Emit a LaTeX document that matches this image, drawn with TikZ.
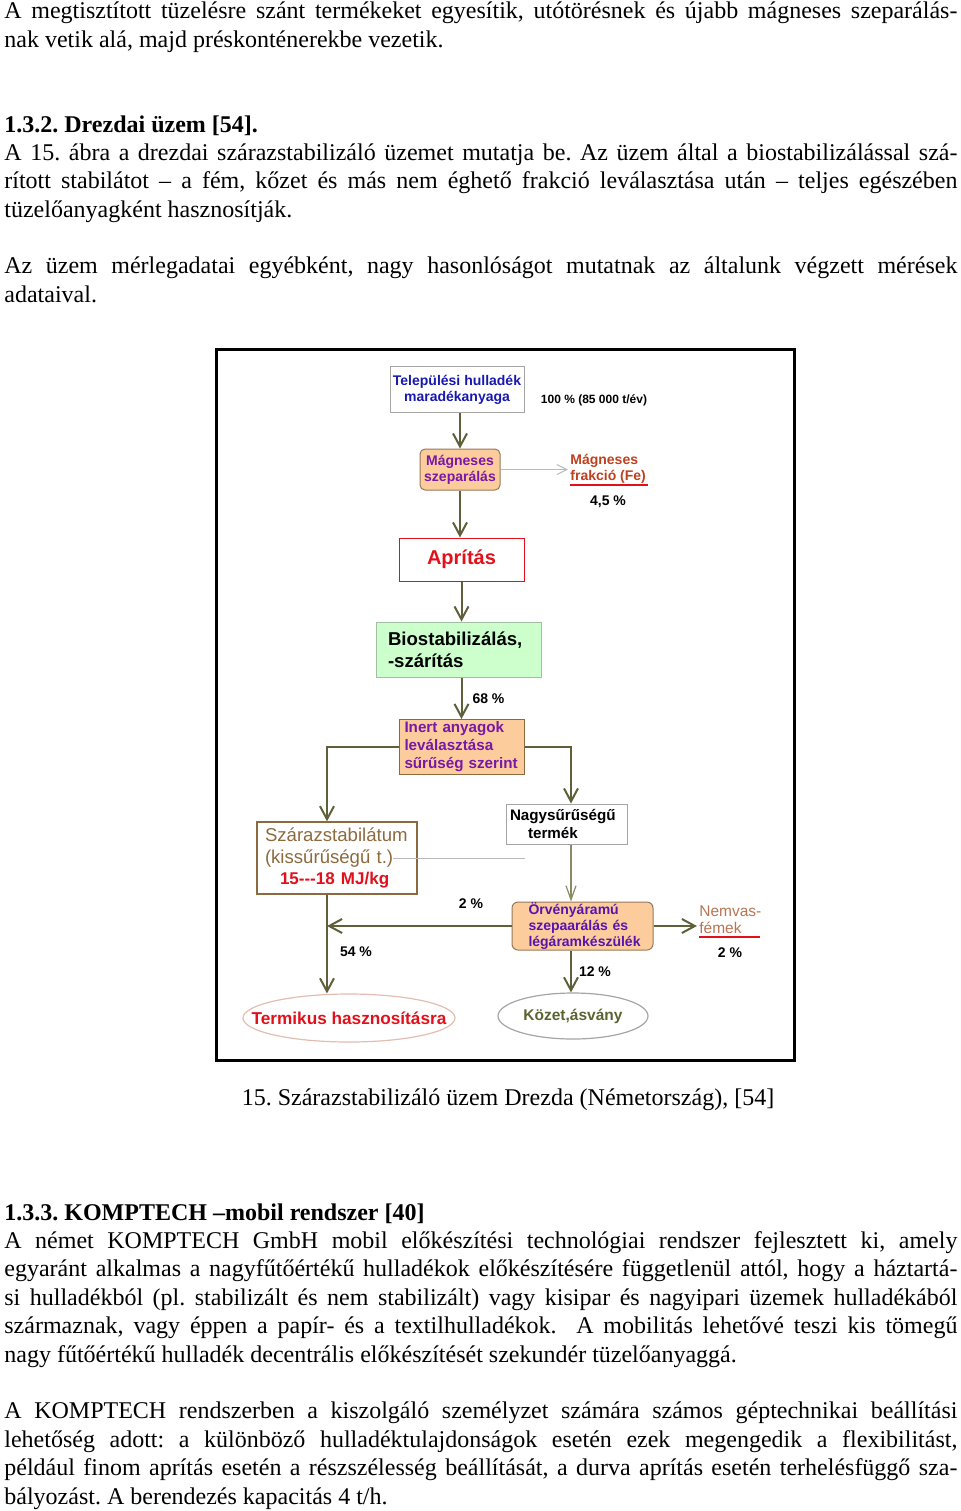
\documentclass[tikz,border=0pt]{standalone}
\usepackage{fontspec}
\setmainfont{Liberation Serif}
\setsansfont{Liberation Sans}
\usetikzlibrary{arrows.meta,shapes.geometric}
\definecolor{flowcol}{RGB}{95,95,58}
\definecolor{thincol}{RGB}{138,138,100}
\definecolor{boxgray}{RGB}{165,165,165}
\definecolor{hullblue}{RGB}{24,24,176}
\definecolor{magpurple}{RGB}{120,24,168}
\definecolor{orvpurple}{RGB}{88,20,176}
\definecolor{peach}{RGB}{252,204,156}
\definecolor{peachline}{RGB}{150,120,90}
\definecolor{aprred}{RGB}{226,16,26}
\definecolor{biogreen}{RGB}{204,255,204}
\definecolor{bioline}{RGB}{160,190,160}
\definecolor{szbrown}{RGB}{140,106,62}
\definecolor{fecol}{RGB}{190,64,30}
\definecolor{nemcol}{RGB}{184,116,82}
\definecolor{kozcol}{RGB}{90,100,50}
\definecolor{termline}{RGB}{228,188,176}
\newcommand\dfont[2]{\sffamily\bfseries\fontsize{#1}{#2}\selectfont}
\frenchspacing
\begin{document}
\begin{tikzpicture}[x=0.5pt,y=-0.5pt,
    para/.style={anchor=base west, inner sep=0pt, font=\fontsize{12}{14}\selectfont},
    box/.style={draw, inner sep=0pt, line width=0.5pt},
    pct/.style={inner sep=0pt, font={\dfont{7}{8}}},
    flow/.style={draw=flowcol, line width=1pt, -{Straight Barb[length=6.5pt,width=7pt]}},
    thinflow/.style={draw=thincol, line width=0.6pt, -{Straight Barb[length=7pt,width=5pt]}},
    uline/.style={draw=aprred, line width=1pt}]
\useasboundingbox (0,0) rectangle (960,1511);
\node (t1) [para] at (4,18.5) {\makebox[476.5pt][s]{A megtisztított tüzelésre szánt termékeket egyesítik, utótörésnek és újabb mágneses szeparálás-}};
\node (t2) [para] at (4,47) {nak vetik alá, majd préskonténerekbe vezetik.};
\node (h1) [para] at (4,132.5) {\bfseries 1.3.2. Drezdai üzem [54].};
\node (t3) [para] at (4,160) {\makebox[476.5pt][s]{A 15. ábra a drezdai szárazstabilizáló üzemet mutatja be. Az üzem által a biostabilizálással szá-}};
\node (t4) [para] at (4,188.5) {\makebox[476.5pt][s]{rított stabilátot – a fém, kőzet és más nem éghető frakció leválasztása után – teljes egészében}};
\node (t5) [para] at (4,217) {tüzelőanyagként hasznosítják.};
\node (t6) [para] at (4,273.5) {\makebox[476.5pt][s]{Az üzem mérlegadatai egyébként, nagy hasonlóságot mutatnak az általunk végzett mérések}};
\node (t7) [para] at (4,302) {adataival.};

\draw [line width=1.5pt] (216,349) rectangle (794,1060);
\node (hull) [box, draw=boxgray, minimum width=67pt, minimum height=23pt, text=hullblue, font={\dfont{7}{8}}, align=center] at (457,389.5) {Települési hulladék\\maradékanyaga};
\node (p100) [pct, font={\dfont{6}{7}}] at (594,400) {100 \% (85 000 t/év)};
\node (magn) [box, draw=peachline, fill=peach, rounded corners=2.5pt, minimum width=40pt, minimum height=20.5pt, text=magpurple, font={\dfont{7}{8}}, align=center] at (460,469.5) {Mágneses\\szeparálás};
\node (fe) [anchor=west, inner sep=1pt, text=fecol, font={\dfont{7}{8}}, align=left] at (568,469) {Mágneses\\frakció (Fe)};
\node (p45) [pct] at (608,502) {4,5 \%};
\node (apr) [box, draw=aprred, minimum width=62.5pt, minimum height=21.5pt, text=aprred, font={\dfont{10}{12}}] at (461.5,559.5) {Aprítás};
\node (bio) [box, draw=bioline, fill=biogreen, inner xsep=6pt, text width=70.5pt, minimum height=27.5pt, font={\dfont{9.3}{11}}, align=left] at (458.5,649.5) {Biostabilizálás,\\-szárítás};
\node (inert) [box, draw=szbrown, fill=peach, inner xsep=2.75pt, text width=57pt, minimum height=27.5pt, text=magpurple, font={\dfont{7.6}{9}}, align=left] at (461.5,747) {Inert anyagok\\leválasztása\\sűrűség szerint};
\node (nagy) [box, draw=boxgray, inner xsep=2pt, text width=56.5pt, minimum height=20pt, font={\dfont{7.6}{9}}, align=left] at (566.5,824) {Nagysűrűségű\\\hspace*{9pt}termék};
\node (szaraz) [box, draw=szbrown, line width=0.7pt, inner xsep=4pt, text width=72pt, minimum height=36pt, text=szbrown, font={\sffamily\fontsize{9.3}{10.75}\selectfont}, align=left] at (337,858) {Szárazstabilátum\\(kissűrűségű t.)\\\hspace*{7.5pt}{\color{aprred}\bfseries\fontsize{8.5}{10.75}\selectfont 15-{}-{}-18 MJ/kg}};
\draw [gray!55, line width=0.4pt] (393,858) -- (525,858);
\node (orveny) [box, draw=peachline, fill=peach, rounded corners=3pt, inner xsep=8.25pt, text width=54pt, minimum height=24pt, text=orvpurple, font={\dfont{7}{8}}, align=left] at (582.5,926) {Örvényáramú\\szepaarálás és\\légáramkészülék};
\node (nemvas) [anchor=west, inner sep=1pt, text=nemcol, font={\sffamily\fontsize{7.75}{8.5}\selectfont}, align=left] at (697,919.5) {Nemvas-\\fémek};
\node (p2b) [pct] at (730,953) {2 \%};
\node (term) [ellipse, draw=termline, line width=0.6pt, inner sep=0pt, minimum width=106pt, minimum height=24pt, text=aprred, font={\dfont{8.6}{10}}] at (349,1018) {\makebox[0pt]{Termikus hasznosításra}};
\node (kozet) [ellipse, draw=boxgray, line width=0.6pt, inner sep=0pt, minimum width=75pt, minimum height=23pt, text=kozcol, font={\dfont{7.75}{9}}] at (573,1016) {\makebox[0pt]{Közet,ásvány}};
\coordinate (lc) at (327,0);
\coordinate (rc) at (571,0);
\draw [flow] (magn.north |- hull.south) -- (magn.north);
\draw [gray!55, line width=0.5pt, -{Straight Barb[length=5pt,width=5pt]}] (magn.east) -- (magn.east -| fe.west);
\draw [uline] (570,485) -- (648,485);
\draw [flow] (magn.south) -- (magn.south |- apr.north);
\draw [flow] (apr.south) -- (apr.south |- bio.north);
\draw [flow] (inert.north |- bio.south) -- node [pct, anchor=west, xshift=5pt, pos=0.5] {68 \%} (inert.north);
\draw [flow] (inert.west) -| (lc |- szaraz.north);
\draw [flow] (inert.east) -| (rc |- nagy.north);
\draw [thinflow] (rc |- nagy.south) -- (rc |- orveny.north);
\draw [flow] (orveny.west) -- node [pct, above=8pt, pos=0.22] {2 \%} (lc |- orveny.west);
\draw [flow] (orveny.east) -- (orveny.east -| nemvas.west);
\draw [uline] (699,937) -- (760,937);
\draw [flow] (lc |- szaraz.south) -- node [pct, anchor=west, xshift=6pt, pos=0.58] {54 \%} (lc |- term.north);
\draw [flow] (rc |- orveny.south) -- node [pct, anchor=west, xshift=3.5pt, pos=0.5] {12 \%} (rc |- kozet.north);

\node (cap) [anchor=base, inner sep=0pt, font=\fontsize{12}{14}\selectfont] at (508,1105.5) {15. Szárazstabilizáló üzem Drezda (Németország), [54]};
\node (h2) [para] at (4,1220) {\bfseries 1.3.3. KOMPTECH –mobil rendszer [40]};
\node (t8) [para] at (4,1248) {\makebox[476.5pt][s]{A német KOMPTECH GmbH mobil előkészítési technológiai rendszer fejlesztett ki, amely}};
\node (t9) [para] at (4,1276.5) {\makebox[476.5pt][s]{egyaránt alkalmas a nagyfűtőértékű hulladékok előkészítésére függetlenül attól, hogy a háztartá-}};
\node (t10) [para] at (4,1305) {\makebox[476.5pt][s]{si hulladékból (pl. stabilizált és nem stabilizált) vagy kisipar és nagyipari üzemek hulladékából}};
\node (t11) [para] at (4,1333.5) {\makebox[476.5pt][s]{származnak, vagy éppen a papír- és a textilhulladékok.\ \ A mobilitás lehetővé teszi kis tömegű}};
\node (t12) [para] at (4,1362) {nagy fűtőértékű hulladék decentrális előkészítését szekundér tüzelőanyaggá.};
\node (t13) [para] at (4,1418.5) {\makebox[476.5pt][s]{A KOMPTECH rendszerben a kiszolgáló személyzet számára számos géptechnikai beállítási}};
\node (t14) [para] at (4,1447) {\makebox[476.5pt][s]{lehetőség adott: a különböző hulladéktulajdonságok esetén ezek megengedik a flexibilitást,}};
\node (t15) [para] at (4,1475.5) {\makebox[476.5pt][s]{például finom aprítás esetén a részszélesség beállítását, a durva aprítás esetén terhelésfüggő sza-}};
\node (t16) [para] at (4,1504) {bályozást. A berendezés kapacitás 4 t/h.};
\end{tikzpicture}
\end{document}
